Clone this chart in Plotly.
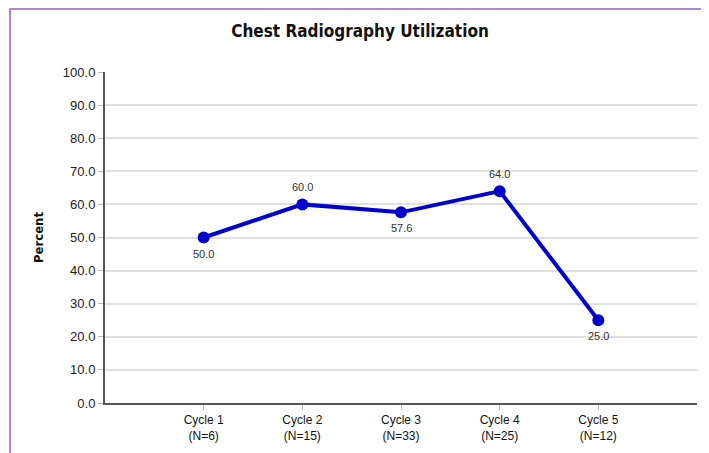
import plotly.graph_objects as go

categories = ["Cycle 1<br>(N=6)", "Cycle 2<br>(N=15)", "Cycle 3<br>(N=33)", "Cycle 4<br>(N=25)", "Cycle 5<br>(N=12)"]
values = [50.0, 60.0, 57.6, 64.0, 25.0]
label_above = [False, True, False, True, False]
y_ticks = [0, 10, 20, 30, 40, 50, 60, 70, 80, 90, 100]

xs = list(range(len(categories)))

fig = go.Figure()
fig.add_trace(go.Scatter(
    x=xs, y=values,
    mode="lines+markers",
    line=dict(color="#0000CC", width=4),
    marker=dict(color="#0000CC", size=12),
    cliponaxis=False,
    showlegend=False,
))

for x, v, above in zip(xs, values, label_above):
    fig.add_annotation(x=x, y=v, text=f"{v:.1f}", showarrow=False,
                       yshift=17 if above else -16,
                       font=dict(family="Liberation Sans, Arial, sans-serif", size=11, color="#333333"))

OFF = 8  # page body margin offset
W, H = 709 - OFF, 453 - OFF
# target screen positions of plot area
left_px, right_px, top_px, bottom_px = 105, 697, 72, 403
ml = left_px - OFF
mt = top_px - OFF
pw = right_px - left_px
ph = bottom_px - top_px
mr = W - ml - pw
mb = H - mt - ph

def sx(px):
    return (px - left_px) / pw

def sy(py):
    return (bottom_px - py) / ph

fig.add_shape(type="rect", xref="paper", yref="paper",
              x0=sx(10), x1=sx(704),
              y0=sy(480), y1=sy(OFF + 1),
              line=dict(color="#A05CC0", width=1.5), fillcolor="rgba(0,0,0,0)", layer="below")

fig.update_layout(
    width=W, height=H,
    margin=dict(l=ml, r=mr, t=mt, b=mb, autoexpand=False),
    paper_bgcolor="white", plot_bgcolor="white",
    title=dict(text="<b>Chest Radiography Utilization</b>", x=sx(360), xref="paper",
               xanchor="center", y=1 - (31 - OFF) / H, yanchor="middle",
               font=dict(family="DejaVu Sans Condensed, Tahoma, sans-serif", size=17, color="#111111")),
    xaxis=dict(
        tickmode="array", tickvals=xs, ticktext=categories,
        range=[-1, 5], showgrid=False, zeroline=False, automargin=False,
        showline=True, linecolor="#555555", linewidth=2,
        ticks="outside", ticklen=5, tickcolor="#bbbbbb",
        tickfont=dict(family="Liberation Sans Narrow, Arial Narrow, sans-serif", size=12, color="#111111"),
    ),
    yaxis=dict(
        range=[0, 100], tickvals=y_ticks, tickformat=".1f", automargin=False,
        showgrid=True, gridcolor="#e0e0e0", gridwidth=2, zeroline=False,
        showline=True, linecolor="#555555", linewidth=2,
        ticks="outside", ticklen=5, tickcolor="#bbbbbb",
        tickfont=dict(family="Liberation Sans, Arial, sans-serif", size=13, color="#222222"),
        title=dict(text="<b>Percent</b>", standoff=16,
                   font=dict(family="DejaVu Sans Condensed, Tahoma, sans-serif", size=13, color="#111111")),
    ),
)

fig.write_html("out.html")
